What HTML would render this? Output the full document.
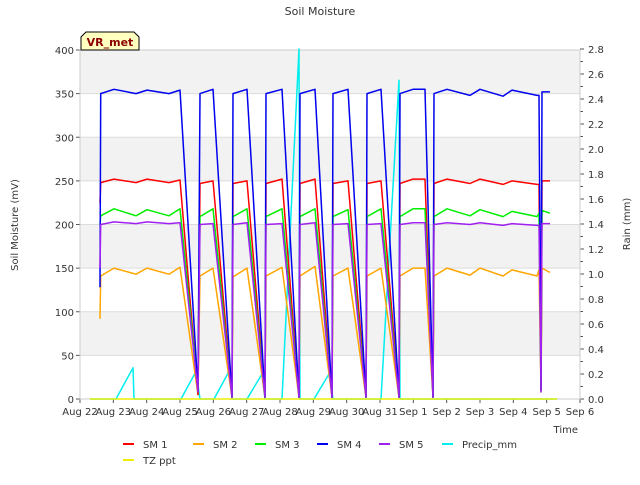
<!DOCTYPE html>
<html><head><meta charset="utf-8"><style>
body{margin:0;background:#fff;font-family:"Liberation Sans","DejaVu Sans",sans-serif}
svg text{font-family:"DejaVu Sans","Liberation Sans",sans-serif}
</style></head><body>
<svg id="c" width="640" height="480" xmlns="http://www.w3.org/2000/svg"></svg>
<script>
const dayLabels=["Aug 22","Aug 23","Aug 24","Aug 25","Aug 26","Aug 27","Aug 28","Aug 29","Aug 30","Aug 31","Sep 1","Sep 2","Sep 3","Sep 4","Sep 5","Sep 6"];
const leftTicks=[0,50,100,150,200,250,300,350,400];
const rightTicks=[0,0.2,0.4,0.6,0.8,1.0,1.2,1.4,1.6,1.8,2.0,2.2,2.4,2.6,2.8];
const times=[0.60,0.62,1.02,1.68,2.01,2.67,3.00,3.54,3.60,3.99,4.56,4.59,5.01,5.55,5.58,6.06,6.57,6.60,7.05,7.56,7.59,8.04,8.58,8.61,9.03,9.57,9.60,9.99,10.35,10.59,10.62,11.01,11.70,12.00,12.69,12.96,13.71,13.77,13.83,13.86,14.10];
const sm1=[225,248,252,248,252,248,251,5,247,250,2,247,250,2,247,252,2,247,252,2,247,250,2,247,250,2,247,252,252,2,247,252,247,252,246,250,246,246,10,250,250];
const sm2=[92,141,150,143,150,143,151,5,141,150,2,140,150,2,141,151,2,141,152,2,141,150,2,141,150,2,141,150,150,2,141,150,142,150,141,148,141,148,8,150,145];
const sm3=[200,210,218,210,217,210,218,10,209,218,2,209,218,2,209,218,2,209,218,2,209,217,2,209,218,2,209,218,218,2,209,218,210,217,209,215,209,213,10,216,213];
const sm4=[128,350,355,350,354,350,354,10,350,355,2,350,355,2,350,355,2,350,355,2,350,355,2,350,355,2,350,355,355,2,350,355,348,355,347,354,348,348,10,352,352];
const sm5=[150,200,203,201,203,201,202,8,200,201,2,200,202,2,200,201,2,200,202,2,200,201,2,200,201,2,200,202,202,2,200,202,200,202,199,201,199,199,8,201,201];
const rainTimes=[0.30,1.08,1.59,1.62,3.03,3.48,3.60,4.02,4.47,4.56,5.01,5.46,5.55,6.06,6.57,6.60,7.02,7.47,7.59,9.03,9.57,9.60,14.31];
const rain=[0,0,0.25,0,0,0.22,0,0,0.22,0,0,0.2,0,0,2.8,0,0,0.2,0,0,2.55,0,0];
const tzTimes=[0.30,14.31];
const tz=[0,0];

const NS="http://www.w3.org/2000/svg";
const svg=document.getElementById('c');
const X0=80,X1=580,Y0=399,Y1=50;
const xS=d=>X0+d*(X1-X0)/15;
const yL=v=>Y0-v*(Y0-Y1)/400;
const yR=v=>Y0-v*(Y0-49)/2.8;
function el(t,a,p){const e=document.createElementNS(NS,t);for(const k in a)e.setAttribute(k,a[k]);(p||svg).appendChild(e);return e;}
function txt(s,a,p){const e=el('text',a,p);e.textContent=s;return e;}

const bg=el('rect',{x:X0,y:Y1,width:X1-X0,height:Y0-Y1,fill:'#fff'});


for(let i=0;i<8;i++){
  const lo=leftTicks[i],hi=leftTicks[i+1];
  if(i%2==1){const b=el('rect',{x:X0,y:yL(hi),width:X1-X0,height:yL(lo)-yL(hi),fill:'#f2f2f2'});
  
  }
}
leftTicks.forEach(v=>{
  const g=el('line',{x1:X0,x2:X1,y1:yL(v),y2:yL(v),stroke:'#dcdcdc','stroke-width':1});
  
  
  el('line',{x1:X0-4,x2:X0,y1:yL(v),y2:yL(v),stroke:'#555'});
  const t=txt(String(v),{x:X0-6,y:yL(v)+4,'text-anchor':'end','font-size':10,fill:'#333'});
  
  
});
rightTicks.forEach(v=>{
  el('line',{x1:X1,x2:X1+4,y1:yR(v),y2:yR(v),stroke:'#555'});
  const t=txt(v.toFixed(1),{x:X1+8,y:yR(v)+4,'font-size':10,fill:'#333'});
  
  
});
for(let i=0;i<14;i++){const v=0.1+i*0.2;el('line',{x1:X1,x2:X1+3,y1:yR(v),y2:yR(v),stroke:'#555'});}
dayLabels.forEach((s,i)=>{
  el('line',{x1:xS(i),x2:xS(i),y1:Y0,y2:Y0+4,stroke:'#555'});
  const t=txt(s,{x:xS(i),y:Y0+16,'text-anchor':'middle','font-size':10,fill:'#333'});
  
  
});
el('rect',{x:X0,y:Y1,width:X1-X0,height:Y0-Y1,fill:'none',stroke:'#ccc'});

function line(ts,vs,sc,color,name){
  const p=el('polyline',{points:ts.map((t,i)=>xS(t).toFixed(1)+','+sc(vs[i]).toFixed(1)).join(' '),fill:'none',stroke:color,'stroke-width':1.5,'stroke-linejoin':'round'});
  
  
}
line(rainTimes,rain,yR,'#00eeee','precip-line');
line(tzTimes,tz,yR,'#eeee00','tz-ppt-line');
line(times,sm2,yL,'#ffa500','sm2-line');
line(times,sm1,yL,'#ff0000','sm1-line');
line(times,sm3,yL,'#00ee00','sm3-line');
line(times,sm4,yL,'#0000ee','sm4-line');
line(times,sm5,yL,'#a020f0','sm5-line');

let t=txt('Soil Moisture',{x:320,y:15,'text-anchor':'middle','font-size':11,fill:'#333'});


t=txt('Time',{x:578,y:433,'text-anchor':'end','font-size':10,fill:'#333'});


t=txt('Soil Moisture (mV)',{x:0,y:0,'text-anchor':'middle','font-size':10,fill:'#333',transform:'translate(18,225) rotate(-90)'});


t=txt('Rain (mm)',{x:0,y:0,'text-anchor':'middle','font-size':10,fill:'#333',transform:'translate(630,224) rotate(-90)'});



const tag=el('path',{d:'M81,50 L81,37 L86,32 L134,32 L139,37 L139,50 Z',fill:'#ffffc0',stroke:'#000','stroke-width':1});


t=txt('VR_met',{x:110,y:46,'text-anchor':'middle','font-size':11,'font-weight':'bold',fill:'#8b0000'});



const legNames=['SM 1','SM 2','SM 3','SM 4','SM 5','Precip_mm','TZ ppt'];
const legColors=['#ff0000','#ffa500','#00ee00','#0000ee','#a020f0','#00eeee','#eeee00'];
const legX=[123,193,255,317,379,442,123];
const legY=[444,444,444,444,444,444,460];
legNames.forEach((n,i)=>{
  const g=el('g',{});
  
  
  el('line',{x1:legX[i],x2:legX[i]+11,y1:legY[i],y2:legY[i],stroke:legColors[i],'stroke-width':2},g);
  txt(n,{x:legX[i]+20,y:legY[i]+4,'font-size':10,fill:'#333'},g);
});
</script>
</body></html>
